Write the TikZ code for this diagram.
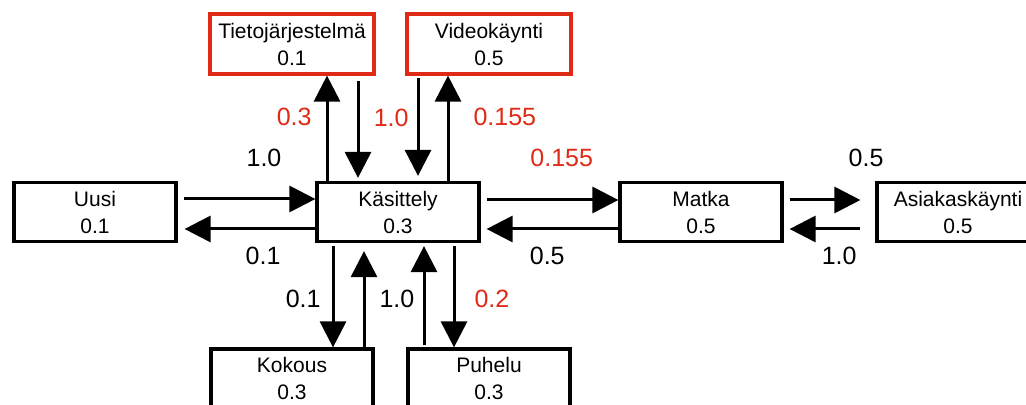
\documentclass[tikz,border=0pt]{standalone}
\usepackage{fontspec}
\setmainfont{Liberation Sans}
\usetikzlibrary{arrows.meta}
\definecolor{probred}{RGB}{222,42,22}

\begin{document}
\begin{tikzpicture}[x=0.5pt, y=-0.5pt,
  state/.style={draw, line width=1.6pt, minimum width=81pt, minimum height=29.5pt,
    inner sep=0pt, align=center, font=\fontsize{10.5pt}{13.5pt}\selectfont},
  redstate/.style={state, draw=probred, minimum width=82pt, minimum height=30pt},
  flow/.style={arrows={-Triangle[length=13pt, width=13pt]}, line width=1.5pt},
  prob/.style={inner sep=0pt, font=\fontsize{12.5pt}{15pt}\selectfont},
  redprob/.style={prob, text=probred}]
\clip (0,0) rectangle (1026,405);

\node[state] at (95,212) (uusi) {Uusi\\0.1};
\node[state] at (398,212) (kas) {Käsittely\\0.3};
\node[state] at (701,212) (matka) {Matka\\0.5};
\node[state] at (958,212) (asiakas) {Asiakaskäynti\\0.5};
\node[redstate] at (292,44) (tieto) {Tietojärjestelmä\\0.1};
\node[redstate] at (489,44) (video) {Videokäynti\\0.5};
\node[state] at (292,378.5) (kokous) {Kokous\\0.3};
\node[state] at (489,378.5) (puhelu) {Puhelu\\0.3};

%uusi <-> kasittely
\draw[flow] ([xshift=3pt, yshift=6.5pt]uusi.east) to
  node[prob, above=15.5pt, pos=0.61] (l1) {1.0} ([yshift=6.5pt]kas.west);
\draw[flow] ([yshift=-8.5pt]kas.west) to
  node[prob, below=8.5pt, pos=0.4] (l2) {0.1} ([xshift=3.5pt, yshift=-8.5pt]uusi.east);

%kasittely <-> matka
\draw[flow] ([xshift=3pt, yshift=6pt]kas.east) to
  node[redprob, above=16pt, pos=0.57] (l3) {0.155} ([yshift=6pt]matka.west);
\draw[flow] ([yshift=-8.5pt]matka.west) to
  node[prob, below=8.5pt, pos=0.54] (l4) {0.5} ([xshift=3pt, yshift=-8.5pt]kas.east);

%matka <-> asiakaskaynti
\draw[flow] ([xshift=3pt, yshift=6pt]matka.east) to
  node[prob, above=16pt, pos=1.08] (l5) {0.5} ([xshift=-7.5pt, yshift=6pt]asiakas.west);
\draw[flow] ([xshift=-7.5pt, yshift=-8.5pt]asiakas.west) to
  node[prob, below=8.5pt, pos=0.3] (l6) {1.0} ([xshift=3pt, yshift=-8.5pt]matka.east);

%tietojarjestelma and videokaynti
\draw[flow] ([xshift=-35.5pt]kas.north) to
  node[redprob, left=7pt, pos=0.61] (l7) {0.3} ([xshift=17.5pt]tieto.south);
\draw[flow] ([xshift=33pt, yshift=-2.5pt]tieto.south) to ([xshift=-20pt, yshift=1.5pt]kas.north);
\draw[flow] ([xshift=-35.5pt, yshift=-1pt]video.south) to
  node[redprob, left=4pt, pos=0.41] (l8) {1.0} ([xshift=10pt, yshift=2.5pt]kas.north);
\draw[flow] ([xshift=25pt]kas.north) to
  node[redprob, right=12pt, pos=0.61] (l9) {0.155} ([xshift=-20.5pt]video.south);

%kokous and puhelu
\draw[flow] ([xshift=-32.5pt, yshift=-1.5pt]kas.south) to
  node[prob, left=5.5pt, pos=0.52] (l10) {0.1} ([xshift=20.5pt]kokous.north);
\draw[flow] ([xshift=36pt]kokous.north) to
  node[prob, right=7pt, pos=0.5] (l11) {1.0} ([xshift=-17pt, yshift=-4pt]kas.south);
\draw[flow] ([xshift=-32.5pt, yshift=1pt]puhelu.north) to ([xshift=13pt, yshift=-1.5pt]kas.south);
\draw[flow] ([xshift=28pt, yshift=-1.5pt]kas.south) to
  node[redprob, right=9.5pt, pos=0.52] (l12) {0.2} ([xshift=-17.5pt]puhelu.north);

\end{tikzpicture}
\end{document}
